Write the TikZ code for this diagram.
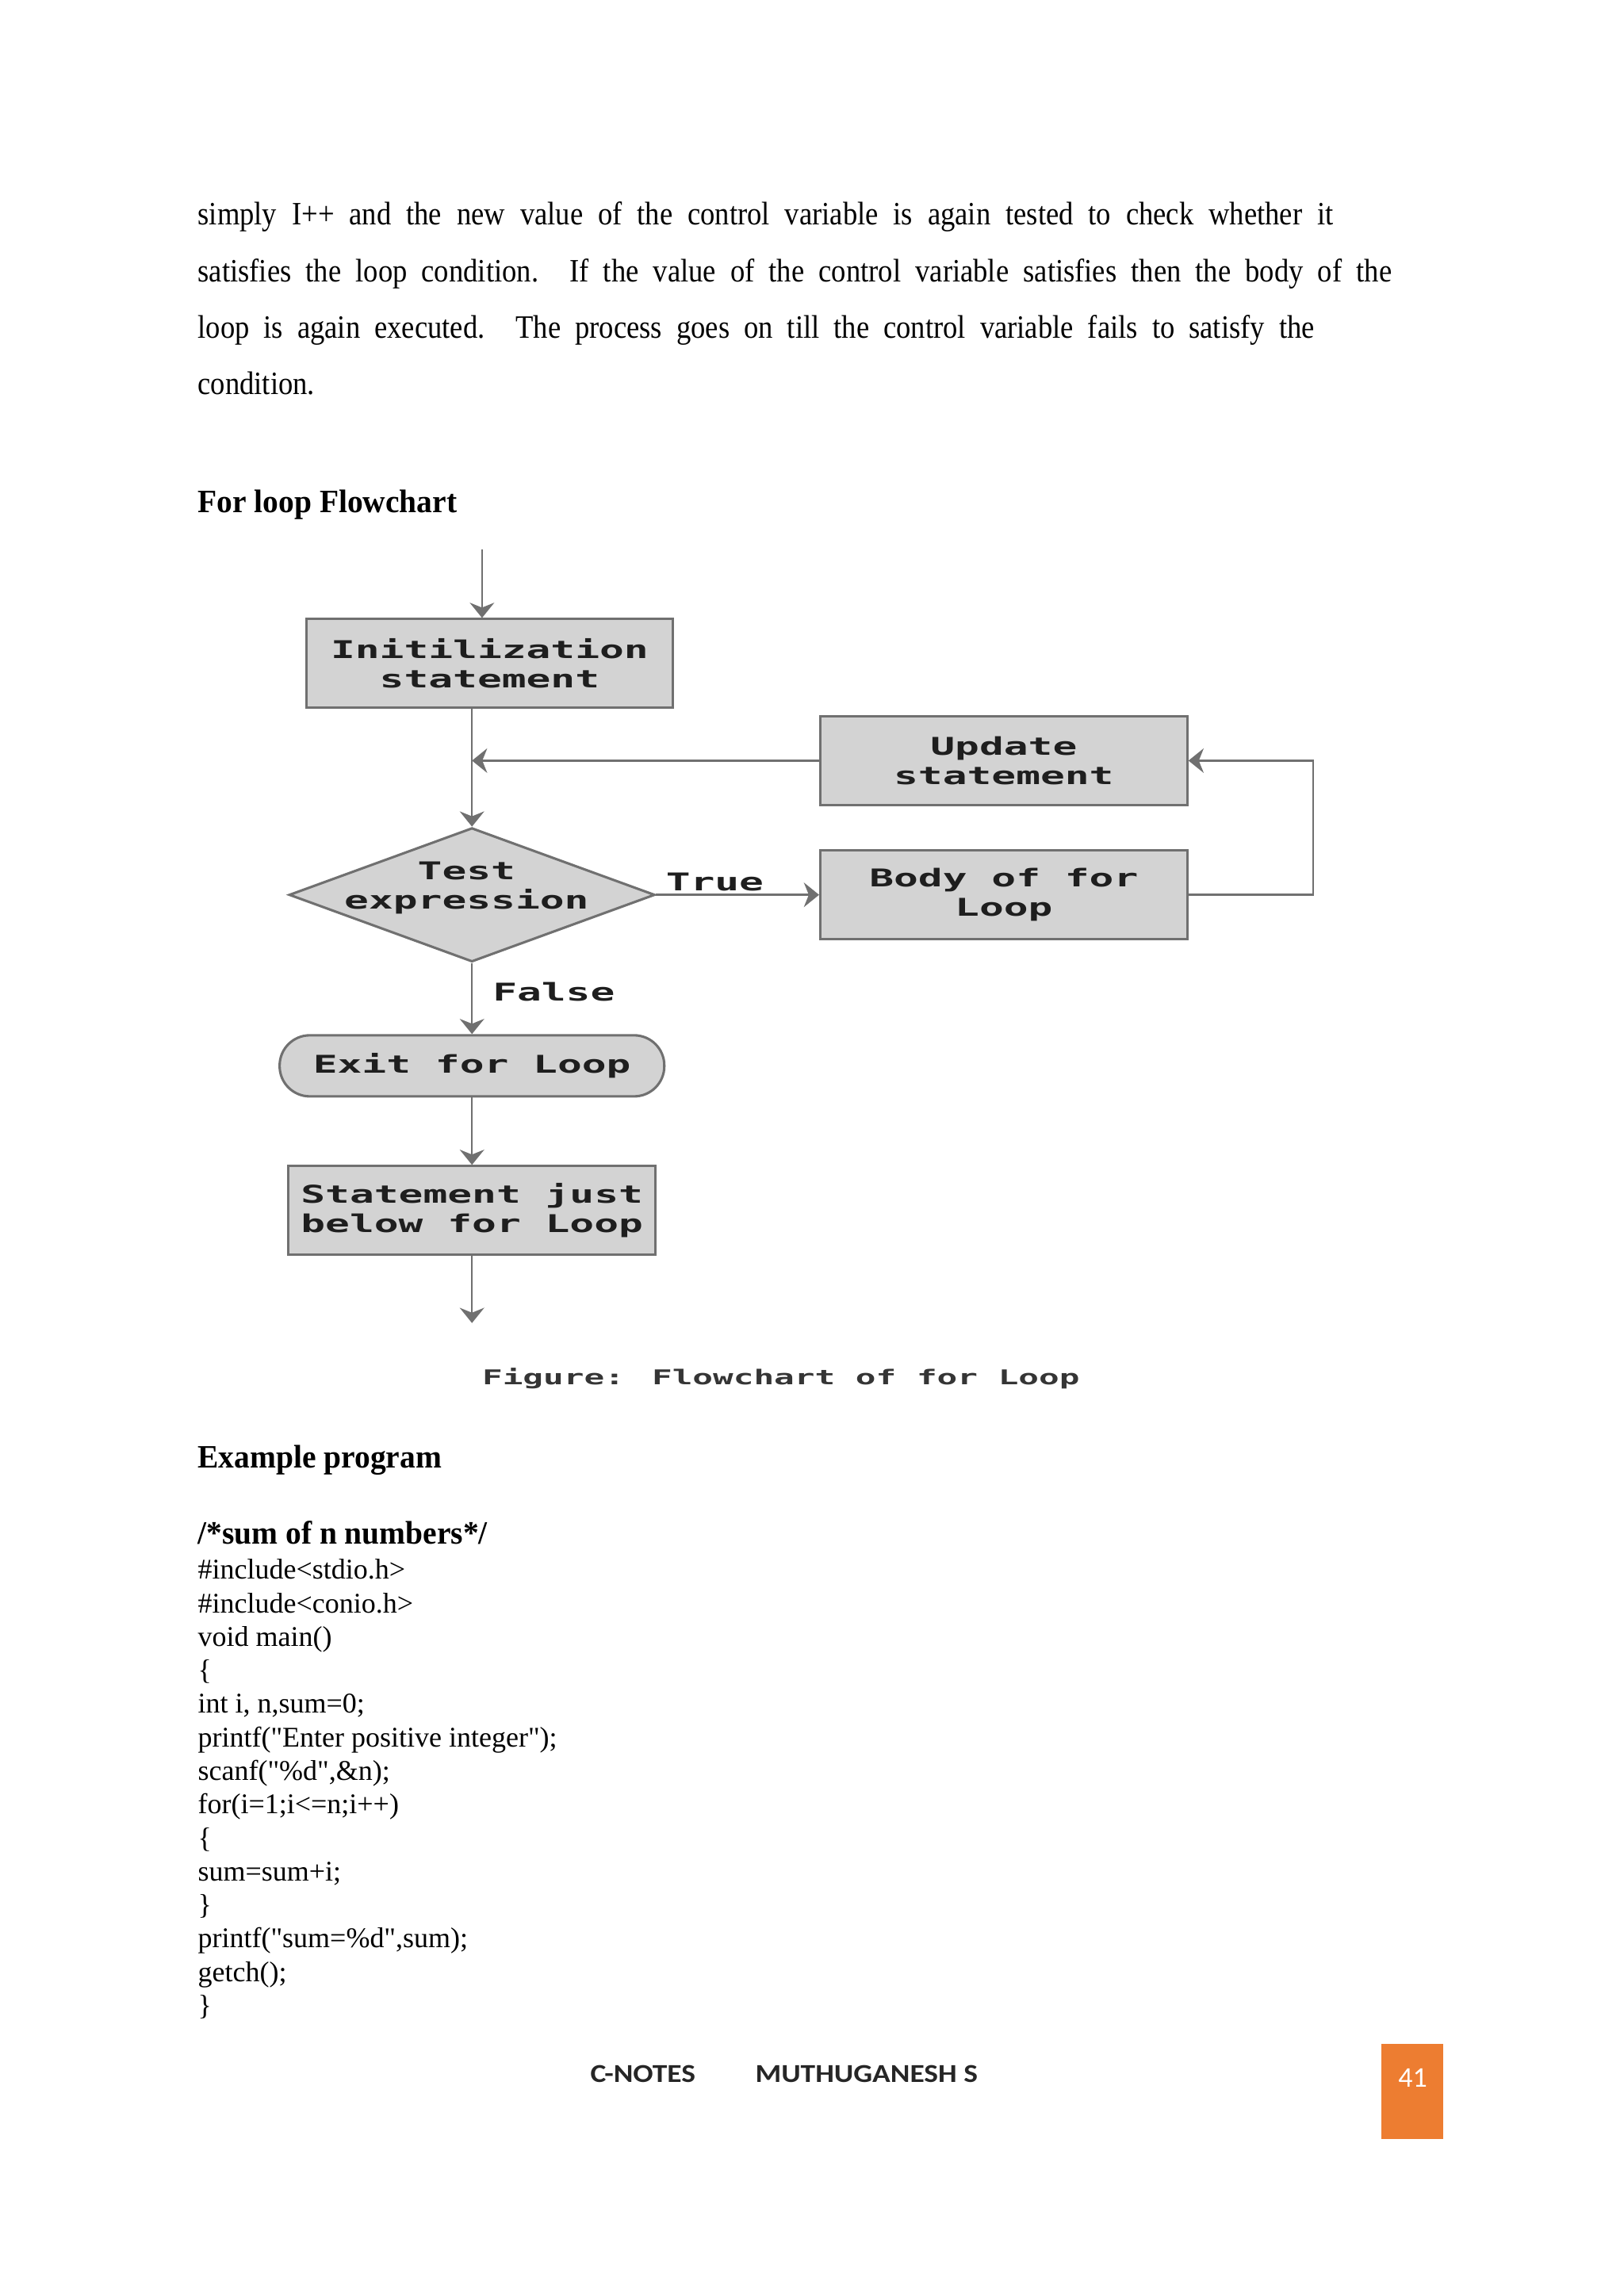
\documentclass[tikz,border=0pt]{standalone}
\usepackage{fontspec}
\usepackage{xcolor}
\usetikzlibrary{shapes.geometric,arrows,arrows.meta}
\newfontfamily\bodyfont{Liberation Serif}[FakeStretch=0.89]
\newfontfamily\headfont{Liberation Serif}[FakeStretch=0.96]
\newfontfamily\codefont{Liberation Serif}
\newfontfamily\chartfont{DejaVu Sans Mono}[FakeStretch=1.66]
\newfontfamily\footfont{Carlito}[FakeStretch=1.15]
\newfontfamily\numfont{Carlito}
\definecolor{boxgray}{RGB}{211,211,211}
\definecolor{linegray}{RGB}{112,112,112}
\definecolor{inkgray}{RGB}{30,30,30}
\definecolor{pageorange}{RGB}{237,125,49}
\tikzstyle{arrow} = [line width=0.7pt,-{Stealth[length=5.6pt,width=9pt,inset=1.8pt]},color=linegray]
\tikzstyle{block} = [rectangle,draw=linegray,line width=0.9pt,fill=boxgray,minimum width=4.745cm,minimum height=1.148cm,inner sep=0pt,align=center,text=inkgray,font=\chartfont\bfseries\fontsize{9}{10.8}\selectfont]
\tikzstyle{terminal} = [block,minimum width=4.975cm,minimum height=0.79cm,rounded corners=0.39cm]
\tikzstyle{test} = [diamond,draw=linegray,line width=0.9pt,fill=boxgray,minimum width=4.731cm,minimum height=1.733cm,inner sep=0pt]
\tikzstyle{chartlabel} = [inner sep=1pt,align=center,text=inkgray,font=\chartfont\bfseries\fontsize{9}{10.8}\selectfont]
\tikzstyle{caption} = [inner sep=0pt,text=inkgray!90,font=\chartfont\bfseries\fontsize{7.5}{9}\selectfont]
\tikzstyle{para} = [anchor=base west,inner sep=0pt,font=\bodyfont\fontsize{12}{14}\selectfont]
\tikzstyle{heading} = [anchor=base west,inner sep=0pt,font=\headfont\bfseries\fontsize{12}{14}\selectfont]
\tikzstyle{codeline} = [anchor=base west,inner sep=0pt,font=\codefont\fontsize{10.5}{12}\selectfont]
\tikzstyle{footer} = [anchor=base west,inner sep=0pt,text=black!85,font=\footfont\bfseries\fontsize{9.5}{11}\selectfont]

\begin{document}
\begin{tikzpicture}
            \useasboundingbox (0,0) rectangle (21,-29.7);
            % text above the chart
            \node[para] (line1) at (2.553,-2.912) {\makebox[14.684cm][s]{simply I++ and the new value of the control variable is again tested to check whether it}};
            \node[para] (line2) at (2.553,-3.643) {\makebox[15.44cm][s]{satisfies the loop condition. If the value of the control variable satisfies then the body of the}};
            \node[para] (line3) at (2.553,-4.374) {\makebox[14.44cm][s]{loop is again executed. The process goes on till the control variable fails to satisfy the}};
            \node[para] (line4) at (2.553,-5.105) {condition.};
            \node[heading] (flowtitle) at (2.553,-6.634) {For loop Flowchart};
            % chart
            \node[block] (init) at (6.332,-8.583) {Initilization\\statement};
            \node[block] (update) at (12.982,-9.839) {Update\\statement};
            \node[test] (test) at (6.104,-11.575) {};
            \node[chartlabel,xshift=-0.07cm,yshift=0.09cm] (testtext) at (test) {Test\\expression};
            \node[block] (body) at (12.982,-11.575) {Body of for\\Loop};
            \node[terminal] (exit) at (6.104,-13.787) {Exit for Loop};
            \node[block] (stmt) at (6.104,-15.658) {Statement just\\below for Loop};
            \coordinate (start) at (6.234,-7.106);
            \coordinate (turn) at (16.98,-11.575);
            \coordinate (finish) at (6.104,-17.114);
            \draw[arrow] (start) -- (start |- init.north);
            \draw[arrow] (init.south -| test.north) -- (test.north);
            \draw[arrow] (update.west) -- (update.west -| test.north);
            \draw[arrow] (test.east) -- (body.west) node[chartlabel,pos=0.36,above] (truelabel) {True};
            \draw[arrow] (body.east) -- (turn) |- (update.east);
            \draw[arrow] (test.south) -- (exit.north) node[chartlabel,pos=0.4,right=0.22cm] (falselabel) {False};
            \draw[arrow] (exit.south) -- (stmt.north);
            \draw[arrow] (stmt.south) -- (finish);
            \node[caption] (figcap) at (10.1,-17.832) {Figure: Flowchart of for Loop};
            % program
            \node[heading] (example) at (2.553,-18.99) {Example program};
            \node[heading] (comment) at (2.553,-19.975) {/*sum of n numbers*/};
            \foreach \code [count=\k from 0] in {{\#include<stdio.h>},{\#include<conio.h>},{void main()},{\{},{int i, n,sum=0;},{printf("Enter positive integer");},{scanf("\%d",\&n);},{for(i=1;i<=n;i++)},{\{},{sum=sum+i;},{\}},{printf("sum=\%d",sum);},{getch();},{\}}}
                \node[codeline] (code\k) at (2.553,{-20.426-0.4337*\k}) {\code};
            % footer
            \node[footer] (notes) at (7.629,-26.937) {C-NOTES};
            \node[footer] (author) at (9.762,-26.937) {MUTHUGANESH S};
            \fill[pageorange] (17.87,-26.435) rectangle (18.665,-27.665);
            \node[anchor=base,inner sep=0pt,text=white,font=\numfont\fontsize{10.5}{12}\selectfont] (pagenum) at (18.27,-26.999) {41};
        \end{tikzpicture}
\end{document}
